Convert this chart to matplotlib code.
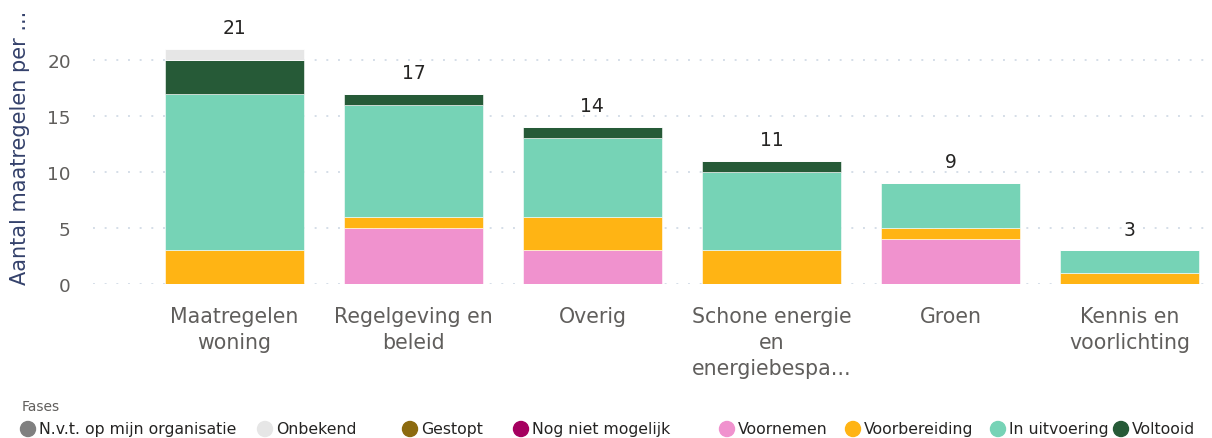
import matplotlib
matplotlib.use('Agg')
import matplotlib.pyplot as plt
from matplotlib.patches import Ellipse
import numpy as np

plt.rcParams['font.family'] = ['DejaVu Sans']

# Categorieën en waarden per fase
categories = ['Maatregelen\nwoning', 'Regelgeving en\nbeleid', 'Overig',
              'Schone energie\nen\nenergiebespa...', 'Groen', 'Kennis en\nvoorlichting']
phases = ['N.v.t. op mijn organisatie', 'Onbekend', 'Gestopt', 'Nog niet mogelijk',
          'Voornemen', 'Voorbereiding', 'In uitvoering', 'Voltooid']
colors = ['#808080', '#E6E6E6', '#8C6A0F', '#A5005F',
          '#F092CE', '#FFB414', '#76D3B6', '#265A37']

nvt = [0, 0, 0, 0, 0, 0]
onbekend = [1, 0, 0, 0, 0, 0]
gestopt = [0, 0, 0, 0, 0, 0]
nog_niet = [0, 0, 0, 0, 0, 0]
voornemen = [0, 5, 3, 0, 4, 0]
voorbereiding = [3, 1, 3, 3, 1, 1]
in_uitvoering = [14, 10, 7, 7, 4, 2]
voltooid = [3, 1, 1, 1, 0, 0]

# volgorde van stapelen (onder naar boven)
stack = [('Voornemen', voornemen), ('Voorbereiding', voorbereiding),
         ('In uitvoering', in_uitvoering), ('Voltooid', voltooid),
         ('Nog niet mogelijk', nog_niet), ('Gestopt', gestopt),
         ('Onbekend', onbekend), ('N.v.t. op mijn organisatie', nvt)]
color_map = dict(zip(phases, colors))

fig = plt.figure(figsize=(12.12, 4.39), dpi=100)
ax = fig.add_axes([93/1212, 154/439, 1117/1212, 275/439])

x = np.arange(len(categories))
bottom = np.zeros(len(categories))
for name, vals in stack:
    vals = np.array(vals, dtype=float)
    ax.bar(x, vals, width=0.777, bottom=bottom, color=color_map[name],
           edgecolor='white', linewidth=0.4, zorder=3)
    bottom += vals

# totalen boven de staven
for xi, tot in zip(x, bottom):
    ax.text(xi, tot + 1.05, f'{int(tot)}', ha='center', va='bottom',
            fontsize=13.5, color='#252423')

ax.set_xlim(-0.79, 5.45)
ax.set_ylim(0, 24.55)
ax.set_yticks([0, 5, 10, 15, 20])
ax.yaxis.grid(True, color='#D5DEE8', linestyle=(0, (1, 5)), linewidth=1.4, zorder=0)
ax.set_xticks(x)
ax.set_xticklabels(categories, fontsize=14.8, color='#605E5C', linespacing=1.37)
ax.tick_params(axis='y', labelsize=13.3, labelcolor='#605E5C', length=0, pad=16)
ax.tick_params(axis='x', length=0, pad=16)
for s in ax.spines.values():
    s.set_visible(False)

fig.text(20/1212, 1 - 148/439, 'Aantal maatregelen per ...', rotation=90,
         ha='center', va='center', fontsize=15, color='#34416B')

# legenda
fig.text(22/1212, 1 - 407/439, 'Fases', fontsize=10, color='#605E5C',
         ha='left', va='center')
legend_x = [28, 265, 410, 521, 727, 853, 998, 1121]
for lx, name, col in zip(legend_x, phases, colors):
    fig.add_artist(Ellipse((lx / 1212, 1 - 430 / 439), 15 / 1212, 15 / 439,
                           transform=fig.transFigure, color=col))
    fig.text((lx + 11) / 1212, 1 - 430 / 439, name, fontsize=11.3, color='#252423',
             ha='left', va='center')

fig.savefig('out.png', dpi=100)
